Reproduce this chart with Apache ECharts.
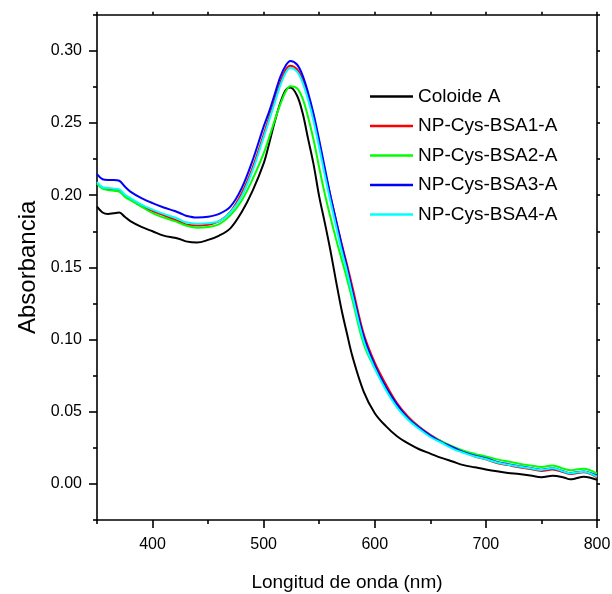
<!DOCTYPE html>
<html>
<head>
<meta charset="utf-8">
<script src="https://cdn.jsdelivr.net/npm/echarts@6/dist/echarts.min.js"></script>
<style>
html,body{margin:0;padding:0;background:#fff;}
#chart{width:612px;height:594px;}
</style>
</head>
<body>
<div id="chart"></div>
<script>
// Wavelengths (nm)
const wavelengths = [350,355,360,365,370,375,380,390,400,410,420,425,430,440,450,460,470,480,490,500,505,510,515,520,524,530,535,540,545,550,555,560,565,570,575,580,590,600,610,620,630,640,650,660,670,680,690,700,710,720,730,740,750,760,770,776,780,788,800];

const coloideA = [0.192,0.188,0.187,0.1875,0.188,0.185,0.182,0.178,0.175,0.172,0.1705,0.1695,0.168,0.1672,0.169,0.172,0.177,0.188,0.203,0.222,0.236,0.251,0.264,0.273,0.2745,0.269,0.257,0.239,0.221,0.199,0.181,0.162,0.141,0.121,0.104,0.088,0.064,0.049,0.040,0.033,0.028,0.024,0.021,0.018,0.0155,0.013,0.0115,0.010,0.0087,0.0076,0.0068,0.0058,0.0046,0.0056,0.0045,0.0032,0.0036,0.005,0.0028];

const bsa1 = [0.2085,0.205,0.204,0.2035,0.2033,0.1995,0.197,0.1925,0.189,0.186,0.183,0.1815,0.1797,0.179,0.1795,0.182,0.1885,0.201,0.219,0.242,0.254,0.266,0.278,0.287,0.2897,0.2872,0.280,0.268,0.253,0.236,0.217,0.200,0.183,0.167,0.152,0.136,0.104,0.084,0.069,0.056,0.0465,0.0395,0.034,0.0295,0.0255,0.022,0.019,0.017,0.0145,0.013,0.0115,0.0103,0.009,0.010,0.008,0.0068,0.0072,0.008,0.0045];

const bsa2 = [0.208,0.2045,0.2035,0.203,0.2025,0.199,0.1965,0.192,0.1875,0.1845,0.182,0.1805,0.179,0.1775,0.178,0.180,0.186,0.196,0.211,0.229,0.240,0.252,0.263,0.272,0.2755,0.274,0.267,0.254,0.238,0.219,0.201,0.185,0.170,0.156,0.142,0.127,0.097,0.080,0.066,0.054,0.0455,0.039,0.0335,0.0295,0.026,0.023,0.0208,0.019,0.017,0.0155,0.014,0.0128,0.0117,0.0128,0.0105,0.0095,0.0098,0.0105,0.0072];

const bsa3 = [0.2145,0.211,0.2105,0.2105,0.210,0.206,0.2025,0.198,0.1945,0.1915,0.189,0.1875,0.1858,0.1845,0.185,0.187,0.192,0.2045,0.224,0.2475,0.258,0.270,0.282,0.290,0.293,0.2905,0.283,0.271,0.256,0.238,0.219,0.200,0.183,0.166,0.150,0.133,0.102,0.082,0.067,0.055,0.0455,0.039,0.0335,0.029,0.0255,0.022,0.0195,0.0178,0.0152,0.0137,0.0123,0.011,0.0098,0.0108,0.0086,0.0075,0.0079,0.0086,0.0055];

const bsa4 = [0.209,0.2055,0.205,0.2045,0.204,0.2005,0.198,0.1935,0.190,0.187,0.1845,0.1828,0.1812,0.1802,0.1805,0.182,0.188,0.199,0.217,0.240,0.252,0.264,0.276,0.285,0.288,0.2855,0.278,0.266,0.251,0.233,0.214,0.196,0.179,0.162,0.147,0.130,0.099,0.080,0.065,0.053,0.0445,0.038,0.0325,0.0285,0.0245,0.0215,0.019,0.0172,0.0148,0.0133,0.012,0.0108,0.0097,0.0108,0.0085,0.0074,0.0078,0.0085,0.005];

const seriesNames = ['Coloide A','NP-Cys-BSA1-A','NP-Cys-BSA2-A','NP-Cys-BSA3-A','NP-Cys-BSA4-A'];
const seriesValues = [coloideA, bsa1, bsa2, bsa3, bsa4];
const seriesColors = ['#000000','#ff0000','#00ff00','#0000ff','#00ffff'];

const xMajorTicks = [400,500,600,700,800];
const xMinorTicks = [350,450,550,650,750];
const yMajorTicks = [0.00,0.05,0.10,0.15,0.20,0.25,0.30];
const yMinorTicks = [-0.025,0.025,0.075,0.125,0.175,0.225,0.275,0.325];
const allYTicks = yMajorTicks.concat(yMinorTicks);
const allXTicks = xMajorTicks.concat(xMinorTicks);

const font = '"Liberation Sans", Arial, sans-serif';
const axisLineStyle = {color:'#000', width:1.6};

const chart = echarts.init(document.getElementById('chart'), null, {renderer:'canvas'});

const option = {
  animation:false,
  backgroundColor:'#fff',
  grid:{left:97, right:15, top:14.7, bottom:74, containLabel:false, outerBoundsMode:'none'},
  legend:{
    orient:'vertical', left:370, top:87, padding:0,
    icon:'rect', itemWidth:43, itemHeight:2.5, itemGap:10.5,
    textStyle:{fontFamily:font, fontSize:19, color:'#000'},
    data:seriesNames
  },
  xAxis:[
    {type:'value', position:'bottom', min:350, max:800,
     name:'Longitud de onda (nm)', nameLocation:'middle', nameGap:53,
     nameTextStyle:{fontFamily:font, fontSize:19, color:'#000'},
     axisLine:{show:true, onZero:false, lineStyle:axisLineStyle},
     axisTick:{show:true, inside:false, length:8, customValues:xMajorTicks, lineStyle:axisLineStyle},
     axisLabel:{show:true, customValues:xMajorTicks, margin:17, fontFamily:font, fontSize:16, color:'#000'},
     splitLine:{show:false}},
    {type:'value', position:'bottom', min:350, max:800,
     axisLine:{show:false, onZero:false},
     axisTick:{show:true, inside:false, length:4, customValues:xMinorTicks, lineStyle:axisLineStyle},
     axisLabel:{show:false}, splitLine:{show:false}},
    {type:'value', position:'top', min:350, max:800,
     axisLine:{show:true, onZero:false, lineStyle:axisLineStyle},
     axisTick:{show:true, inside:false, length:3, customValues:allXTicks, lineStyle:axisLineStyle},
     axisLabel:{show:false}, splitLine:{show:false}}
  ],
  yAxis:[
    {type:'value', position:'left', min:-0.025, max:0.325,
     name:'Absorbancia', nameLocation:'middle', nameGap:47,
     nameTextStyle:{fontFamily:font, fontSize:24, color:'#000'},
     axisLine:{show:true, onZero:false, lineStyle:axisLineStyle},
     axisTick:{show:true, inside:false, length:8, customValues:yMajorTicks, lineStyle:axisLineStyle},
     axisLabel:{show:true, customValues:yMajorTicks, margin:15, fontFamily:font, fontSize:16, color:'#000',
       formatter:function(v){return Number(v).toFixed(2);}},
     splitLine:{show:false}},
    {type:'value', position:'left', min:-0.025, max:0.325,
     axisLine:{show:false, onZero:false},
     axisTick:{show:true, inside:false, length:4, customValues:yMinorTicks, lineStyle:axisLineStyle},
     axisLabel:{show:false}, splitLine:{show:false}},
    {type:'value', position:'right', min:-0.025, max:0.325,
     axisLine:{show:true, onZero:false, lineStyle:axisLineStyle},
     axisTick:{show:true, inside:false, length:3, customValues:allYTicks, lineStyle:axisLineStyle},
     axisLabel:{show:false}, splitLine:{show:false}}
  ],
  series: seriesNames.map(function(name, k){
    return {
      name:name, type:'line', xAxisIndex:0, yAxisIndex:0,
      smooth:0.35, symbol:'none', showSymbol:false,
      lineStyle:{width:2, color:seriesColors[k]},
      itemStyle:{color:seriesColors[k]},
      data: wavelengths.map(function(w,i){return [w, seriesValues[k][i]];})
    };
  })
};
chart.setOption(option);
</script>
</body>
</html>
